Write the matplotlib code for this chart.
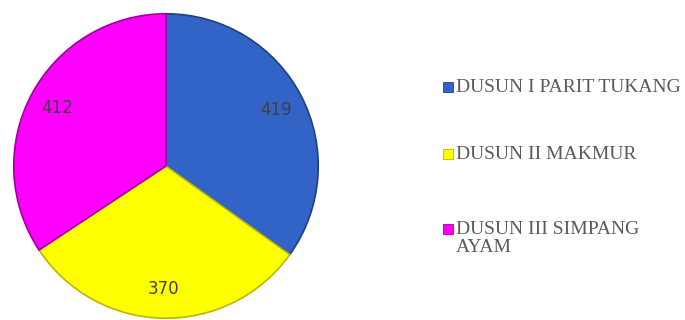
import matplotlib
matplotlib.use("Agg")
import matplotlib.pyplot as plt

# Data penduduk per dusun
categories = ["DUSUN I PARIT TUKANG", "DUSUN II MAKMUR", "DUSUN III SIMPANG\nAYAM"]
values = [419, 370, 412]
colors = ["#3264C8", "#FFFF00", "#FF00FF"]
edge_colors = ["#1F3F80", "#B8B800", "#A000A0"]

W, H = 685, 320
fig = plt.figure(figsize=(W / 100, H / 100), dpi=100)

# Posisi pie dalam piksel
cx, cy, r = 166, 166, 153
ax = fig.add_axes([(cx - r) / W, (H - cy - r) / H, 2 * r / W, 2 * r / H])

wedges, texts = ax.pie(values, colors=colors, startangle=90, counterclock=False,
                       labels=[str(v) for v in values], labeldistance=0.81,
                       wedgeprops=dict(linewidth=1.2))
for w, ec in zip(wedges, edge_colors):
    w.set_edgecolor(ec)
for t in texts:
    t.set_fontsize(12)
    t.set_color("#404040")
    t.set_ha("center")
    t.set_va("center")
ax.set_xlim(-1.005, 1.005)
ax.set_ylim(-1.005, 1.005)
ax.set_aspect("equal")
ax.axis("off")

# Legenda manual
legend_y = [87, 154, 229]
for cat, col, ec, y in zip(categories, colors, edge_colors, legend_y):
    fig.patches.append(plt.Rectangle((443 / W, (H - y - 5) / H), 10 / W, 10 / H,
                                     transform=fig.transFigure, facecolor=col,
                                     edgecolor=ec, linewidth=0.6))
    fig.text(456 / W, (H - y + 8) / H, cat, fontsize=14, color="#5a5a5a",
             family="Liberation Serif", ha="left", va="top", linespacing=1.08)

fig.savefig("out.png", dpi=100)
